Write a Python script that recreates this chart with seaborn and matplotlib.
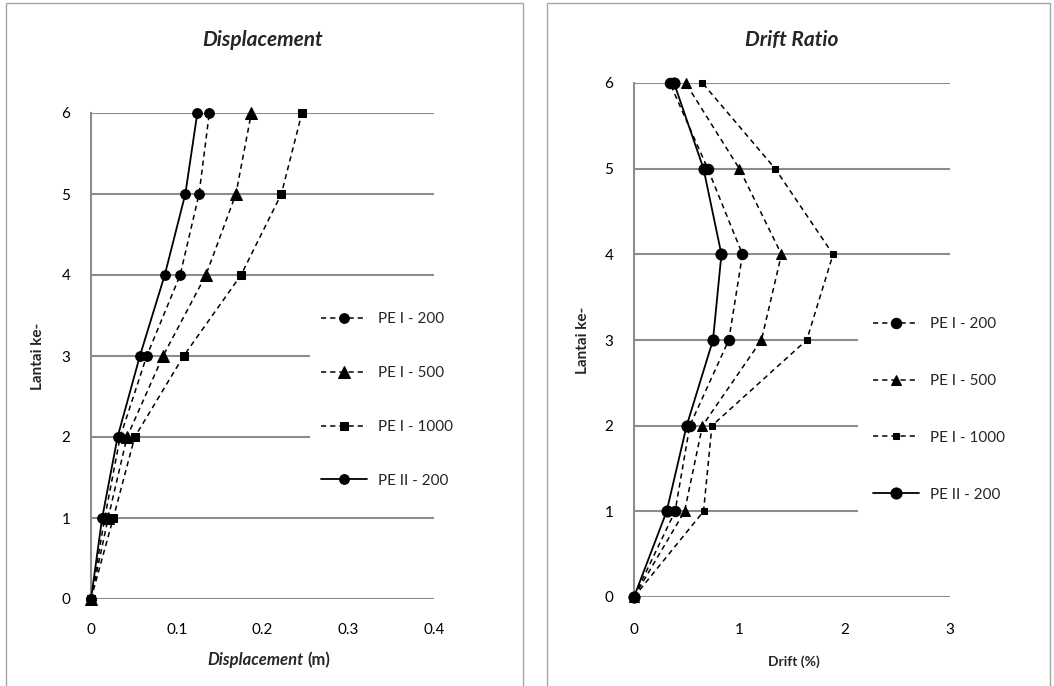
import matplotlib
matplotlib.use("Agg")
import matplotlib.pyplot as plt
import seaborn as sns
import pandas as pd
from matplotlib.patches import Rectangle

# ---------------- data ----------------
floors = [0, 1, 2, 3, 4, 5, 6]
series_names = ["PE I - 200", "PE I - 500", "PE I - 1000", "PE II - 200"]

disp_pe1_200 = [0, 0.016, 0.034, 0.065, 0.104, 0.126, 0.138]
disp_pe1_500 = [0, 0.020, 0.042, 0.084, 0.134, 0.169, 0.187]
disp_pe1_1000 = [0, 0.026, 0.051, 0.108, 0.175, 0.222, 0.246]
disp_pe2_200 = [0, 0.013, 0.031, 0.057, 0.086, 0.110, 0.124]

drift_pe1_200 = [0, 0.39, 0.53, 0.90, 1.03, 0.70, 0.34]
drift_pe1_500 = [0, 0.48, 0.65, 1.21, 1.40, 1.00, 0.49]
drift_pe1_1000 = [0, 0.66, 0.74, 1.64, 1.89, 1.34, 0.65]
drift_pe2_200 = [0, 0.31, 0.50, 0.75, 0.83, 0.66, 0.38]

disp_ticks = [0, 0.1, 0.2, 0.3, 0.4]
disp_tick_labels = ["0", "0.1", "0.2", "0.3", "0.4"]
drift_ticks = [0, 1, 2, 3]
floor_ticks = [0, 1, 2, 3, 4, 5, 6]

# ---------------- style ----------------
sns.set_theme(style="white")
plt.rcParams["font.family"] = ["Lato", "DejaVu Sans"]

W, H = 1054, 686
fig = plt.figure(figsize=(W / 100, H / 100), dpi=100)
fig.patch.set_facecolor("white")

# chart frames
frame_col = "#a6a6a6"
fig.patches.append(Rectangle((6 / W, -0.02), (523 - 6) / W, (H - 3) / H + 0.02,
                             transform=fig.transFigure, fill=False,
                             edgecolor=frame_col, linewidth=1.0))
fig.patches.append(Rectangle((547 / W, -0.02), (1050 - 547) / W, (H - 3) / H + 0.02,
                             transform=fig.transFigure, fill=False,
                             edgecolor=frame_col, linewidth=1.0))

def px_axes(x0, x1, y0, y1):
    return fig.add_axes([x0 / W, 1 - y1 / H, (x1 - x0) / W, (y1 - y0) / H])

ax1 = px_axes(91, 434, 113, 599)
ax2 = px_axes(634, 950, 83, 597)

grid_col = "#8c8c8c"
dash = (0, (3.4, 2.6))

def draw(ax, vals, sizes):
    styles = [
        dict(marker="o", linestyle=dash, markersize=sizes[0], linewidth=1.1),
        dict(marker="^", linestyle=dash, markersize=sizes[1], linewidth=1.1),
        dict(marker="s", linestyle=dash, markersize=sizes[2], linewidth=1.1),
        dict(marker="o", linestyle="-", markersize=sizes[3], linewidth=1.3),
    ]
    for name, v, st in zip(series_names, vals, styles):
        df = pd.DataFrame({"x": v, "floor": floors})
        sns.lineplot(data=df, x="x", y="floor", sort=False, estimator=None,
                     color="black", markeredgecolor="black", markerfacecolor="black",
                     ax=ax, label=name, zorder=3, **st)

draw(ax1, [disp_pe1_200, disp_pe1_500, disp_pe1_1000, disp_pe2_200], [7, 8, 6, 7])
draw(ax2, [drift_pe1_200, drift_pe1_500, drift_pe1_1000, drift_pe2_200], [7.5, 6.5, 5, 8])

for ax in (ax1, ax2):
    ax.set_facecolor("white")
    ax.set_ylim(0, 6)
    ax.set_yticks(floor_ticks)
    ax.set_yticklabels([str(f) for f in floor_ticks])
    ax.grid(axis="y", color=grid_col, linewidth=1.5, zorder=0)
    ax.grid(axis="x", visible=False)
    ax.set_axisbelow(True)
    for s in ("top", "right", "bottom"):
        ax.spines[s].set_visible(False)
    ax.spines["left"].set_color(grid_col)
    ax.spines["left"].set_linewidth(1.5)
    ax.tick_params(axis="both", length=0, labelsize=11, colors="black")
    ax.tick_params(axis="y", pad=15)
    ax.set_xlabel("")
    ax.set_ylabel("Lantai ke-", fontsize=11, fontweight="bold")
    for ln in ax.lines:
        ln.set_clip_on(False)

ax1.set_xlim(0, 0.4)
ax1.set_xticks(disp_ticks)
ax1.set_xticklabels(disp_tick_labels)
ax1.tick_params(axis="x", pad=17)
ax1.yaxis.set_label_coords(-0.134, 0.5)

ax2.set_xlim(0, 3)
ax2.set_xticks(drift_ticks)
ax2.set_xticklabels([str(t) for t in drift_ticks])
ax2.tick_params(axis="x", pad=19)
ax2.yaxis.set_label_coords(-0.139, 0.5)

def legend(ax, x, y, spacing, bpad):
    leg = ax.legend(loc="upper left", bbox_to_anchor=(x / W, 1 - y / H),
                    bbox_transform=fig.transFigure, borderaxespad=0,
                    frameon=True, facecolor="white", edgecolor="none", framealpha=1,
                    fontsize=11, handlelength=3.0, handletextpad=0.7,
                    labelspacing=spacing, borderpad=bpad, fancybox=False)
    leg.set_zorder(5)
    return leg

legend(ax1, 310, 301, 2.6, 0.75)
legend(ax2, 858, 302, 2.8, 1.0)

# titles
fig.text(262.5 / W, 1 - 40 / H, "Displacement", ha="center", va="center",
         fontsize=15, fontweight="bold", fontstyle="italic")
fig.text(792 / W, 1 - 40 / H, "Drift Ratio", ha="center", va="center",
         fontsize=15, fontweight="bold", fontstyle="italic")

# x axis titles
fig.text(304 / W, 1 - 660 / H, "Displacement", ha="right", va="center",
         fontsize=12, fontweight="bold", fontstyle="italic")
fig.text(307 / W, 1 - 660 / H, "(m)", ha="left", va="center",
         fontsize=12, fontweight="bold")
fig.text(794 / W, 1 - 662 / H, "Drift (%)", ha="center", va="center",
         fontsize=10, fontweight="bold")

fig.savefig("out.png", dpi=100, facecolor="white")
